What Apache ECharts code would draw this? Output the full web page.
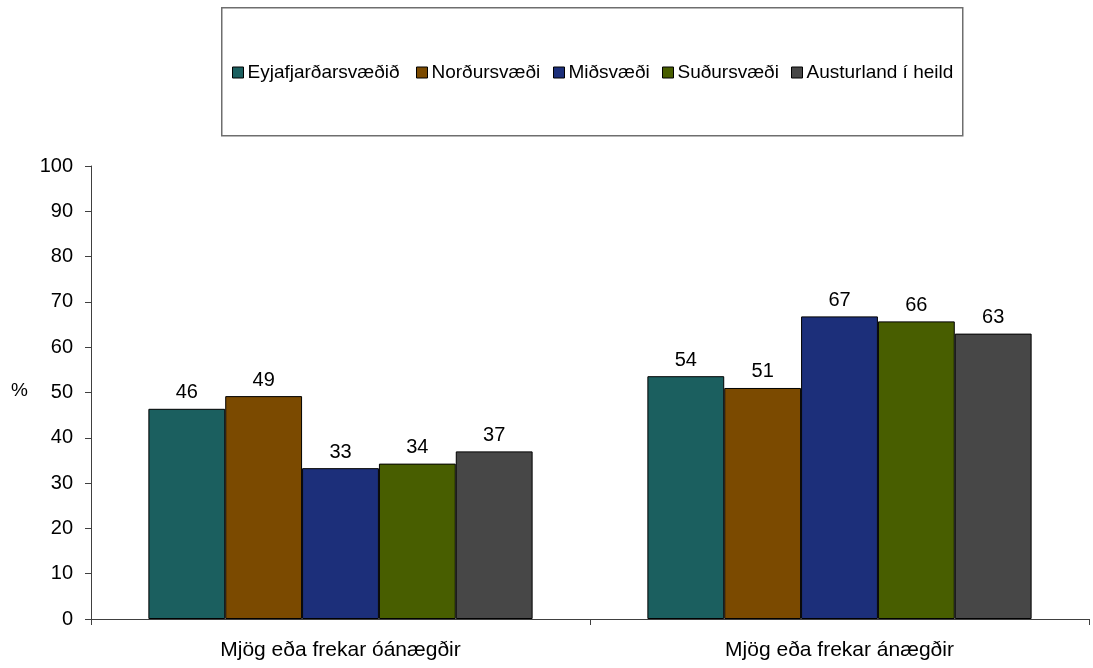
<!DOCTYPE html>
<html>
<head>
<meta charset="utf-8">
<script src="https://cdn.jsdelivr.net/npm/echarts@6/dist/echarts.min.js"></script>
<style>html,body{margin:0;padding:0;background:#fff}#c{width:1093px;height:668px}</style>
</head>
<body>
<div id="c"></div>
<script>
var categories = ['Mjög eða frekar óánægðir', 'Mjög eða frekar ánægðir'];
var seriesNames = ['Eyjafjarðarsvæðið', 'Norðursvæði', 'Miðsvæði', 'Suðursvæði', 'Austurland í heild'];
var eyjafjordur = [46.4, 53.6];
var nordur = [49.2, 51.0];
var midsvaedi = [33.3, 66.8];
var sudur = [34.3, 65.7];
var austurland = [37.0, 63.0];
var yTicks = [0, 10, 20, 30, 40, 50, 60, 70, 80, 90, 100];
var colors = ['#1B5F5F', '#7B4A00', '#1C2F7A', '#485E00', '#474747'];

var values = [eyjafjordur, nordur, midsvaedi, sudur, austurland];
var FONT = "'Liberation Sans', Arial, sans-serif";
var legendX = [232, 416, 553, 662, 791];

var chart = echarts.init(document.getElementById('c'), null, {renderer: 'canvas'});
var option = {
  animation: false,
  backgroundColor: '#fff',
  color: colors,
  graphic: [{
    type: 'rect', left: 221, top: 7, z: -1,
    shape: {width: 741, height: 128},
    style: {fill: '#fff', stroke: '#6e6e6e', lineWidth: 1.5}
  }, {
    type: 'text', left: 11, top: 381,
    style: {text: '%', font: '19px ' + FONT, fill: '#000'}
  }],
  legend: seriesNames.map(function (n, i) {
    return {
      data: [n], left: legendX[i], top: 63, padding: 0,
      itemWidth: 11, itemHeight: 11, itemGap: 0,
      icon: 'rect',
      itemStyle: {borderColor: '#000', borderWidth: 1},
      textStyle: {fontFamily: FONT, fontSize: 19, color: '#000', padding: [0, 0, 0, -1]},
      selectedMode: false
    };
  }),
  grid: {left: 91, right: 4, top: 166, bottom: 49, containLabel: false},
  xAxis: {
    type: 'category', data: categories,
    axisLine: {lineStyle: {color: '#404040', width: 1}},
    axisTick: {show: true, length: 6, lineStyle: {color: '#404040'}},
    axisLabel: {fontFamily: FONT, fontSize: 21, color: '#000', margin: 21}
  },
  yAxis: {
    type: 'value', min: yTicks[0], max: yTicks[yTicks.length - 1], interval: 10,
    splitLine: {show: false},
    axisLine: {show: true, lineStyle: {color: '#404040', width: 1}},
    axisTick: {show: true, length: 6, lineStyle: {color: '#404040'}},
    axisLabel: {fontFamily: FONT, fontSize: 20, color: '#000', margin: 18}
  },
  series: seriesNames.map(function (n, i) {
    return {
      name: n, type: 'bar', data: values[i],
      barGap: '0%', barCategoryGap: '23%',
      itemStyle: {color: colors[i], borderColor: '#000', borderWidth: 1},
      label: {
        show: true, position: 'top', distance: 6,
        fontFamily: FONT, fontSize: 20, color: '#000',
        formatter: function (p) { return Math.round(p.value); }
      }
    };
  })
};
chart.setOption(option);
</script>
</body>
</html>
